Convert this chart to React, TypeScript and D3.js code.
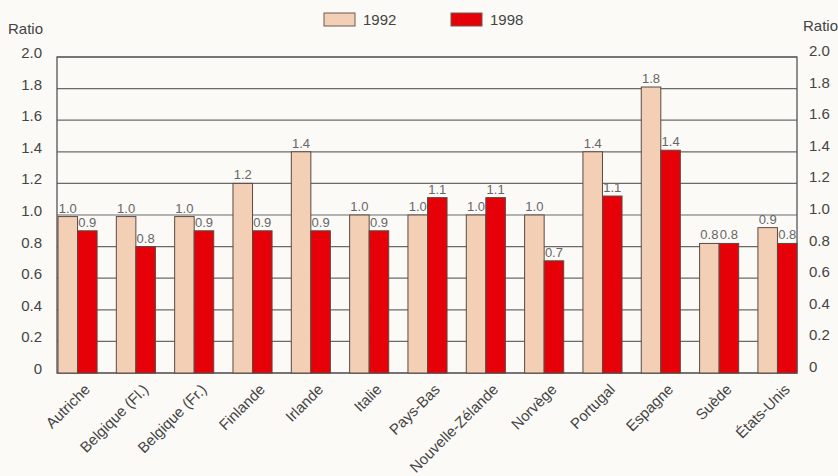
import { useEffect, useRef } from 'react';
import * as d3 from 'd3';

// countries, left to right
const countries = [
  'Autriche', 'Belgique (Fl.)', 'Belgique (Fr.)', 'Finlande', 'Irlande', 'Italie',
  'Pays-Bas', 'Nouvelle-Zélande', 'Norvège', 'Portugal', 'Espagne', 'Suède', 'États-Unis',
];
const years = ['1992', '1998'];
const values1992 = [0.99, 0.99, 0.99, 1.2, 1.4, 1.0, 1.0, 1.0, 1.0, 1.4, 1.81, 0.82, 0.92];
const values1998 = [0.9, 0.8, 0.9, 0.9, 0.9, 0.9, 1.11, 1.11, 0.71, 1.12, 1.41, 0.82, 0.82];
const yTicks = [0, 0.2, 0.4, 0.6, 0.8, 1.0, 1.2, 1.4, 1.6, 1.8, 2.0];

const W = 838;
const H = 476;
const FONT = '"Liberation Sans Narrow", "Arial Narrow", "Liberation Sans", Arial, sans-serif';
const colors = ['#f3cfb5', '#e60008'];

export default function App() {
  const svgRef = useRef<SVGSVGElement>(null);

  useEffect(() => {
    if (!svgRef.current) return;
    const svg = d3.select(svgRef.current);
    svg.selectAll('*').remove();

    const left = 58, right = 797, top = 57, bottom = 373;

    const x0 = d3.scaleBand<string>().domain(countries).range([left, right]).paddingInner(0.33).paddingOuter(0);
    const x1 = d3.scaleBand<string>().domain(years).range([0, x0.bandwidth()]);
    const y = d3.scaleLinear().domain([0, 2]).range([bottom, top]);
    const fmt = d3.format('.1f');
    const tickFmt = (d: number) => (d === 0 ? '0' : fmt(d));

    svg.append('rect').attr('width', W).attr('height', H).attr('fill', '#fbfaf6');

    // gridlines
    svg.append('g')
      .selectAll('line')
      .data(yTicks)
      .join('line')
      .attr('x1', left - 1).attr('x2', right)
      .attr('y1', d => y(d)).attr('y2', d => y(d))
      .attr('stroke', '#6a6a6a').attr('stroke-width', 1.2);

    // frame
    svg.append('rect')
      .attr('x', left - 1).attr('y', top).attr('width', right - left + 1).attr('height', bottom - top)
      .attr('fill', 'none').attr('stroke', '#555').attr('stroke-width', 1.3);

    // bars
    const series = [values1992, values1998];
    const groups = svg.append('g')
      .selectAll('g')
      .data(countries)
      .join('g')
      .attr('transform', d => `translate(${x0(d)},0)`);

    years.forEach((yr, si) => {
      groups.append('rect')
        .attr('x', x1(yr)!)
        .attr('y', (_, i) => y(series[si][i]))
        .attr('width', x1.bandwidth())
        .attr('height', (_, i) => bottom - y(series[si][i]))
        .attr('fill', colors[si])
        .attr('stroke', '#5b4a44')
        .attr('stroke-width', 1);

      groups.append('text')
        .attr('x', x1(yr)! + x1.bandwidth() / 2)
        .attr('y', (_, i) => y(series[si][i]) - 4)
        .attr('text-anchor', 'middle')
        .attr('font-family', FONT)
        .attr('font-size', 13)
        .attr('fill', '#666')
        .text((_, i) => fmt(series[si][i]));
    });

    // y tick labels, left and right (sit a little above their gridline)
    svg.append('g')
      .selectAll('text')
      .data(yTicks)
      .join('text')
      .attr('x', 42).attr('y', d => y(d) + 1)
      .attr('text-anchor', 'end')
      .attr('font-family', FONT).attr('font-size', 15).attr('fill', '#444')
      .text(tickFmt);

    svg.append('g')
      .selectAll('text')
      .data(yTicks)
      .join('text')
      .attr('x', 809).attr('y', d => y(d) - 1)
      .attr('text-anchor', 'start')
      .attr('font-family', FONT).attr('font-size', 15).attr('fill', '#444')
      .text(tickFmt);

    svg.append('text').attr('x', 8).attr('y', 34)
      .attr('font-family', FONT).attr('font-size', 15).attr('fill', '#444').text('Ratio');
    svg.append('text').attr('x', 803).attr('y', 31)
      .attr('font-family', FONT).attr('font-size', 15).attr('fill', '#444').text('Ratio');

    // x labels
    svg.append('g')
      .selectAll('text')
      .data(countries)
      .join('text')
      .attr('transform', d => `translate(${x0(d)! + x0.bandwidth() / 2 + 6},${bottom + 10}) rotate(-45)`)
      .attr('text-anchor', 'end')
      .attr('dy', '0.7em')
      .attr('font-family', FONT).attr('font-size', 15).attr('fill', '#444')
      .text(d => d);

    // legend
    const legendX = [324, 451];
    years.forEach((yr, i) => {
      svg.append('rect')
        .attr('x', legendX[i]).attr('y', 13).attr('width', 31).attr('height', 13)
        .attr('fill', colors[i]).attr('stroke', '#6a5a55').attr('stroke-width', 1);
      svg.append('text')
        .attr('x', legendX[i] + 39).attr('y', 25)
        .attr('font-family', FONT).attr('font-size', 15).attr('fill', '#444')
        .text(yr);
    });
  }, []);

  return (
    <svg
      ref={svgRef}
      width={W}
      height={H}
      style={{ position: 'absolute', left: 0, top: 0, display: 'block' }}
    />
  );
}
